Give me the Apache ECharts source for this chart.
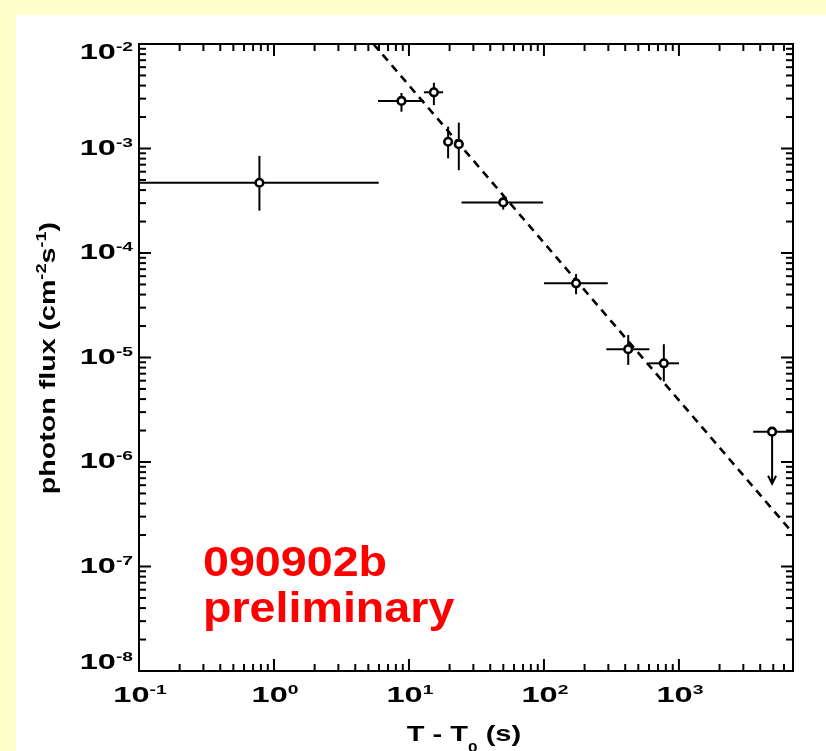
<!DOCTYPE html>
<html><head><meta charset="utf-8">
<script src="https://cdn.jsdelivr.net/npm/echarts@6/dist/echarts.min.js"></script>
<style>html,body{margin:0;padding:0;background:#ffffcc}#c{width:826px;height:751px}</style>
</head><body><div id="c"></div>
<script>
// ---- data ----
const tMid   = [0.78, 8.8, 15.3, 19.5, 23.4, 49.9, 173, 421, 773];
const tLo    = [0.1, 5.9, 12.9, 18.3, 21.7, 24.5, 100, 290, 597];
const tHi    = [5.97, 12.9, 17.9, 21.0, 25.3, 98.6, 297, 604, 1002];
const flux   = [4.7e-4, 2.85e-3, 3.45e-3, 1.16e-3, 1.1e-3, 3.05e-4, 5.13e-5, 1.2e-5, 8.8e-6];
const fluxLo = [2.54e-4, 2.25e-3, 2.6e-3, 8.05e-4, 6.2e-4, 2.6e-4, 4.03e-5, 8.5e-6, 5.9e-6];
const fluxHi = [8.5e-4, 3.4e-3, 4.26e-3, 1.62e-3, 1.77e-3, 3.5e-4, 6.3e-5, 1.64e-5, 1.34e-5];
// upper limit
const ulT = [4900], ulTLo = [3550], ulTHi = [7000], ulFlux = [1.95e-6], ulArrowTo = [6.2e-7];
// power-law fit (dashed)
const fitT = [5.46, 7000];
const fitFlux = [1.0e-2, 2.08e-7];
// axes
const X_MIN = 0.1, X_MAX = 7000, Y_MIN = 1e-8, Y_MAX = 1e-2;
const xMajor = [0.1, 1, 10, 100, 1000];
const xLabelExp = ['-1', '0', '1', '2', '3'];
const yMajor = [1e-8, 1e-7, 1e-6, 1e-5, 1e-4, 1e-3, 1e-2];
const yLabelExp = ['-8', '-7', '-6', '-5', '-4', '-3', '-2'];
const minorMult = [2, 3, 4, 5, 6, 7, 8, 9];
const labelText = ['090902b', 'preliminary'];

const xMinor = xMajor.flatMap(d => minorMult.map(m => m * d)).filter(v => v <= X_MAX);
const yMinor = yMajor.slice(0, -1).flatMap(d => minorMult.map(m => m * d));

const FAM = '"Liberation Sans", Arial, Helvetica, sans-serif';
const chart = echarts.init(document.getElementById('c'));

const labelRich = {
  n: {font: 'bold 22px ' + FAM, fontSize: 22, fontWeight: 'bold', fontFamily: FAM, fill: '#000', lineHeight: 24},
  s: {font: 'bold 13px ' + FAM, fontSize: 13, fontWeight: 'bold', fontFamily: FAM, fill: '#000', lineHeight: 12, verticalAlign: 'top'}
};
const LABEL_SX = 1.48;
function labelStyle(exp, align, vAlign) {
  return {text: '{n|10}{s|' + exp + '}', rich: labelRich, font: 'bold 22px ' + FAM,
    fontSize: 22, fontWeight: 'bold', fontFamily: FAM, fill: '#000', align: align, verticalAlign: vAlign};
}

const errData = tMid.map((t, i) => [t, flux[i], tLo[i], tHi[i], fluxLo[i], fluxHi[i]]);
const ulData = ulT.map((t, i) => [t, ulFlux[i], ulTLo[i], ulTHi[i], ulArrowTo[i]]);
const xTickData = xMajor.map(v => [v, 1e-5, 1]).concat(xMinor.map(v => [v, 1e-5, 0]));
const yTickData = yMajor.map(v => [1, v, 1]).concat(yMinor.map(v => [1, v, 0]));
const xLabelData = xMajor.map((v, i) => [v, 1e-5, i]);
const yLabelData = yMajor.map((v, i) => [1, v, i]);

const LW = 2, MAJ = 12, MIN = 7;
const stroke = {stroke: '#000', lineWidth: LW};

chart.setOption({
  animation: false,
  backgroundColor: '#ffffcc',
  grid: {left: 139, right: 33, top: 44, bottom: 80, show: true, borderColor: '#000', borderWidth: 2, backgroundColor: 'transparent'},
  xAxis: {
    type: 'log', logBase: 10, min: X_MIN, max: X_MAX,
    axisLine: {show: false}, axisTick: {show: false}, splitLine: {show: false}, axisLabel: {show: false}
  },
  yAxis: {
    type: 'log', logBase: 10, min: Y_MIN, max: Y_MAX,
    axisLine: {show: false}, axisTick: {show: false}, splitLine: {show: false}, axisLabel: {show: false}
  },
  graphic: [
    {type: 'rect', left: 16, top: 15, z: -10, shape: {width: 810, height: 736}, style: {fill: '#ffffff'}, silent: true},
    {type: 'text', x: 203, y: 564, scaleX: 1.11, z: 10,
     style: {text: labelText[0], fill: '#ff0000', font: 'bold 42px ' + FAM, verticalAlign: 'middle', align: 'left'}},
    {type: 'text', x: 203, y: 610, scaleX: 1.11, z: 10,
     style: {text: labelText[1], fill: '#ff0000', font: 'bold 42px ' + FAM, verticalAlign: 'middle', align: 'left'}},
    {type: 'text', x: 49, y: 358, rotation: Math.PI / 2, scaleX: 1.3, z: 10,
     style: {text: '{b|photon flux (cm}{p|-2}{b|s}{p|-1}{b|)}', align: 'center', verticalAlign: 'middle',
       rich: {
         b: {fontSize: 22, fontFamily: FAM, fontWeight: 'bold', fill: '#000', lineHeight: 28},
         p: {fontSize: 14, fontFamily: FAM, fontWeight: 'bold', fill: '#000', lineHeight: 14, verticalAlign: 'top'}
       }}},
    {type: 'text', x: 464, y: 735, scaleX: 1.32, z: 10,
     style: {text: '{b|T - T}{u|0}{b| (s)}', align: 'center', verticalAlign: 'middle',
       rich: {
         b: {fontSize: 22, fontFamily: FAM, fontWeight: 'bold', fill: '#000', lineHeight: 40},
         u: {fontSize: 13, fontFamily: FAM, fontWeight: 'bold', fill: '#000', lineHeight: 13, verticalAlign: 'bottom'}
       }}}
  ],
  series: [
    {
      type: 'line', data: fitT.map((t, i) => [t, fitFlux[i]]), symbol: 'none', clip: true,
      lineStyle: {color: '#000', width: 2.6, type: [8, 6]}, z: 3
    },
    {
      type: 'custom', data: errData, encode: {x: 0, y: 1}, z: 4,
      renderItem: (params, api) => {
        const x = api.value(0), y = api.value(1);
        const c = api.coord([x, y]);
        const l = api.coord([api.value(2), y]), r = api.coord([api.value(3), y]);
        const lo = api.coord([x, api.value(4)]), hi = api.coord([x, api.value(5)]);
        return {type: 'group', children: [
          {type: 'line', shape: {x1: l[0], y1: c[1], x2: r[0], y2: c[1]}, style: stroke},
          {type: 'line', shape: {x1: c[0], y1: lo[1], x2: c[0], y2: hi[1]}, style: stroke},
          {type: 'circle', shape: {cx: c[0], cy: c[1], r: 3.8}, style: {fill: '#fff', stroke: '#000', lineWidth: 2.6}}
        ]};
      }
    },
    {
      type: 'custom', data: ulData, encode: {x: 0, y: 1}, z: 4,
      renderItem: (params, api) => {
        const x = api.value(0), y = api.value(1);
        const c = api.coord([x, y]);
        const l = api.coord([api.value(2), y]), r = api.coord([api.value(3), y]);
        const a = api.coord([x, api.value(4)]);
        return {type: 'group', children: [
          {type: 'line', shape: {x1: l[0], y1: c[1], x2: r[0], y2: c[1]}, style: stroke},
          {type: 'line', shape: {x1: c[0], y1: c[1], x2: c[0], y2: a[1]}, style: stroke},
          {type: 'polyline', shape: {points: [[c[0] - 4, a[1] - 8], [c[0], a[1]], [c[0] + 4, a[1] - 8]]}, style: {stroke: '#000', lineWidth: 2, fill: null}},
          {type: 'circle', shape: {cx: c[0], cy: c[1], r: 3.8}, style: {fill: '#fff', stroke: '#000', lineWidth: 2.6}}
        ]};
      }
    },
    {
      type: 'custom', data: xTickData, encode: {x: 0, y: 1}, z: 5, silent: true,
      renderItem: (params, api) => {
        const v = api.value(0), len = api.value(2) ? MAJ : MIN;
        const b = api.coord([v, Y_MIN]), t = api.coord([v, Y_MAX]);
        return {type: 'group', children: [
          {type: 'line', shape: {x1: b[0], y1: b[1], x2: b[0], y2: b[1] - len}, style: stroke},
          {type: 'line', shape: {x1: t[0], y1: t[1], x2: t[0], y2: t[1] + len}, style: stroke}
        ]};
      }
    },
    {
      type: 'custom', data: yTickData, encode: {x: 0, y: 1}, z: 5, silent: true,
      renderItem: (params, api) => {
        const v = api.value(1), len = api.value(2) ? MAJ : MIN;
        const l = api.coord([X_MIN, v]), r = api.coord([X_MAX, v]);
        return {type: 'group', children: [
          {type: 'line', shape: {x1: l[0], y1: l[1], x2: l[0] + len, y2: l[1]}, style: stroke},
          {type: 'line', shape: {x1: r[0], y1: r[1], x2: r[0] - len, y2: r[1]}, style: stroke}
        ]};
      }
    },
    {
      // x tick labels (10^n)
      type: 'custom', data: xLabelData, encode: {x: 0, y: 1}, z: 6, silent: true, clip: false,
      renderItem: (params, api) => {
        const p = api.coord([api.value(0), Y_MIN]);
        return {type: 'text', x: p[0] + 1, y: p[1] + 13, scaleX: LABEL_SX,
          style: labelStyle(xLabelExp[api.value(2)], 'center', 'top')};
      }
    },
    {
      // y tick labels (10^n)
      type: 'custom', data: yLabelData, encode: {x: 0, y: 1}, z: 6, silent: true, clip: false,
      renderItem: (params, api) => {
        const p = api.coord([X_MIN, api.value(1)]);
        const top = api.coord([X_MIN, Y_MAX])[1], bot = api.coord([X_MIN, Y_MIN])[1];
        const cy = Math.min(Math.max(p[1], top + 9), bot - 8);
        return {type: 'text', x: p[0] - 6, y: cy, scaleX: LABEL_SX,
          style: labelStyle(yLabelExp[api.value(2)], 'right', 'middle')};
      }
    }
  ]
});
</script></body></html>
